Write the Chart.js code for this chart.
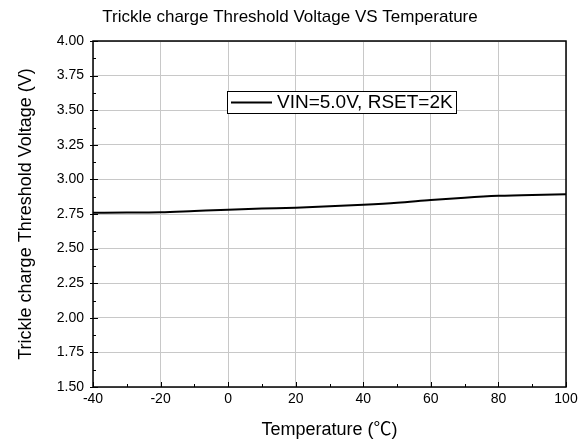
<!DOCTYPE html>
<html>
<head>
<meta charset="utf-8">
<script src="https://cdn.jsdelivr.net/npm/chart.js@4/dist/chart.umd.min.js"></script>
<style>
  html, body { margin: 0; padding: 0; background: #fff; }
  #wrap { width: 588px; height: 445px; }
</style>
</head>
<body>
<div id="wrap"><canvas id="chart"></canvas></div>
<script>
// ── Data ─────────────────────────────────────────────────────────────────────
const temperatures = [-40, -30, -20, -10, 0, 10, 20, 30, 40, 50, 60, 70, 80, 90, 100];
const thresholdVoltage = [2.759, 2.760, 2.763, 2.772, 2.781, 2.789, 2.796, 2.806, 2.817, 2.831, 2.851, 2.868, 2.881, 2.888, 2.892];
const seriesLabel = 'VIN=5.0V, RSET=2K';
const xTicks = [-40, -20, 0, 20, 40, 60, 80, 100];
const yTicks = [1.5, 1.75, 2.0, 2.25, 2.5, 2.75, 3.0, 3.25, 3.5, 3.75, 4.0];

const FONT = 'Arial, "Liberation Sans", "Noto Sans CJK SC", sans-serif';

// ── Inward ticks, frame and boxed legend ──────────────────────────────────────
const framePlugin = {
    id: 'frame',
    afterDatasetsDraw(chart) {
        const { ctx, chartArea: a, scales: { x, y } } = chart;
        ctx.save();
        ctx.strokeStyle = '#000';
        ctx.lineWidth = 1;
        ctx.beginPath();
        // x ticks (major + minor), pointing up into the plot
        for (let v = -40; v <= 100; v += 10) {
            const px = Math.round(x.getPixelForValue(v)) + 0.5;
            const len = v % 20 === 0 ? 5 : 3;
            ctx.moveTo(px, a.bottom);
            ctx.lineTo(px, a.bottom - len);
        }
        // y ticks (major + minor)
        for (let i = 0; i <= 20; i++) {
            const v = 1.5 + i * 0.125;
            const py = Math.round(y.getPixelForValue(v)) + 0.5;
            if (i % 2 === 0) {
                ctx.moveTo(a.left - 3, py);
                ctx.lineTo(a.left + 5, py);
            } else {
                ctx.moveTo(a.left, py);
                ctx.lineTo(a.left + 3, py);
            }
        }
        ctx.stroke();
        ctx.lineWidth = 1.5;
        ctx.strokeRect(a.left, a.top, a.right - a.left, a.bottom - a.top);

        // legend box
        const bx = 227, by = 91, bw = 229, bh = 22;
        ctx.fillStyle = '#fff';
        ctx.fillRect(bx, by, bw, bh);
        ctx.lineWidth = 1;
        ctx.strokeRect(bx + 0.5, by + 0.5, bw, bh);
        ctx.lineWidth = 2;
        ctx.beginPath();
        ctx.moveTo(bx + 4, by + 11.5);
        ctx.lineTo(bx + 45, by + 11.5);
        ctx.stroke();
        ctx.fillStyle = '#000';
        ctx.font = '19px ' + FONT;
        ctx.textBaseline = 'middle';
        ctx.textAlign = 'left';
        ctx.fillText(seriesLabel, bx + 50, by + 12);
        ctx.restore();
    },
};

new Chart(document.getElementById('chart'), {
    type: 'line',
    data: {
        datasets: [{
            label: seriesLabel,
            data: temperatures.map((t, i) => ({ x: t, y: thresholdVoltage[i] })),
            borderColor: '#000',
            borderWidth: 2,
            pointRadius: 0,
            cubicInterpolationMode: 'monotone',
            fill: false,
        }],
    },
    options: {
        responsive: true,
        maintainAspectRatio: false,
        animation: false,
        layout: { padding: { left: 14, right: 22, top: 0, bottom: 0 } },
        plugins: {
            legend: { display: false },
            tooltip: { enabled: false },
            title: {
                display: true,
                text: 'Trickle charge Threshold Voltage VS Temperature',
                color: '#000',
                font: { family: FONT, size: 17, weight: 'normal' },
                padding: { top: 7, bottom: 13.6 },
            },
        },
        scales: {
            x: {
                type: 'linear',
                min: -40,
                max: 100,
                afterBuildTicks(scale) { scale.ticks = xTicks.map((v) => ({ value: v })); },
                afterFit(scale) { scale.height = 58; },
                grid: { color: '#c8c8c8', drawTicks: false },
                border: { display: false },
                ticks: { color: '#000', padding: 4, font: { family: FONT, size: 14 } },
                title: {
                    display: true,
                    text: 'Temperature (℃)',
                    color: '#000',
                    font: { family: FONT, size: 18 },
                    padding: { top: 0, bottom: 4 },
                },
            },
            y: {
                min: 1.5,
                max: 4.0,
                afterBuildTicks(scale) { scale.ticks = yTicks.map((v) => ({ value: v })); },
                afterFit(scale) { scale.width = 79; },
                grid: { color: '#c8c8c8', drawTicks: false },
                border: { display: false },
                ticks: {
                    color: '#000',
                    padding: 9,
                    font: { family: FONT, size: 14 },
                    callback: (v) => v.toFixed(2),
                },
                title: {
                    display: true,
                    text: 'Trickle charge Threshold Voltage (V)',
                    color: '#000',
                    font: { family: FONT, size: 18 },
                    padding: { top: 1, bottom: 0 },
                },
            },
        },
    },
    plugins: [framePlugin],
});
</script>
</body>
</html>
